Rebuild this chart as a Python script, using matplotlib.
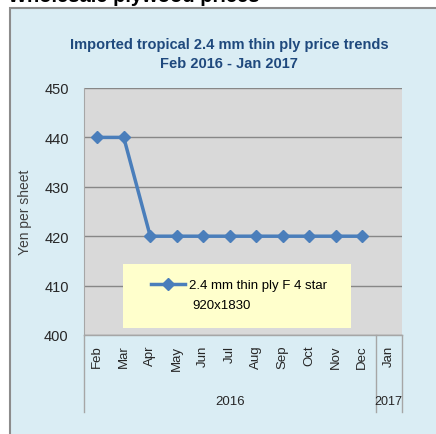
import numpy as np
import matplotlib.pyplot as plt
from matplotlib.patches import Rectangle

months = ['Feb', 'Mar', 'Apr', 'May', 'Jun', 'Jul', 'Aug', 'Sep', 'Oct', 'Nov', 'Dec', 'Jan']
years = ['2016', '2017']
prices = [440, 440, 420, 420, 420, 420, 420, 420, 420, 420, 420, np.nan]
series_name = '2.4 mm thin ply F 4 star'
series_size = '920x1830'

arial = ['Liberation Sans', 'DejaVu Sans']

fig = plt.figure(figsize=(4.36, 4.35), dpi=100, facecolor='white')

# outer light blue panel
fig.patches.append(Rectangle((10 / 436, -0.01), 1.0, 1 - 9 / 435 + 0.01, transform=fig.transFigure,
                             facecolor='#daedf4', edgecolor='#8c8c8c', lw=1.5, zorder=-10))
fig.text(8 / 436, 1 - 6 / 435, 'Wholesale plywood prices', fontsize=14.5, fontweight='bold',
         family=arial, ha='left', va='bottom')

fig.text(229 / 436, 1 - 45 / 435, 'Imported tropical 2.4 mm thin ply price trends', fontsize=10.5,
         fontweight='bold', color='#1f497d', family=arial, ha='center', va='center')
fig.text(229 / 436, 1 - 64 / 435, 'Feb 2016 - Jan 2017', fontsize=10.5,
         fontweight='bold', color='#1f497d', family=arial, ha='center', va='center')

ax = fig.add_axes([84 / 436, 1 - 336 / 435, 318 / 436, 247 / 435])
ax.set_facecolor('#d9d9d9')
x = np.arange(len(months))
ax.plot(x, prices, color='#4a7ebb', lw=2.5, marker='D', markersize=6, label=series_name, zorder=3)
ax.set_xlim(-0.5, len(months) - 0.5)
ax.set_ylim(400, 450)
ax.set_yticks(range(400, 451, 10))
ax.yaxis.grid(True, color='#878787', lw=1)
ax.set_axisbelow(True)
for s in ax.spines.values():
    s.set_visible(False)
ax.spines['left'].set_visible(True)
ax.spines['left'].set_color('#a6a6a6')
ax.tick_params(axis='y', length=0, pad=11, labelsize=10.5, labelcolor='#262626')
for t in ax.get_yticklabels():
    t.set_family(arial)
ax.set_xticks(x)
ax.set_xticklabels(months, rotation=90, fontsize=9.5, color='#262626', family=arial)
ax.tick_params(axis='x', length=0, pad=7)
ax.set_ylabel('Yen per sheet', fontsize=10, color='#404040', family=arial, labelpad=9)

# yellow legend box
ax.add_patch(Rectangle((0.123, 0.028), 0.717, 0.259, transform=ax.transAxes,
                       facecolor='#ffffcc', edgecolor='none', zorder=4))
leg = ax.legend(loc='center left', bbox_to_anchor=(0.19, 0.202), frameon=False,
                handlelength=2.6, handletextpad=0.25, borderpad=0, prop={'family': arial, 'size': 9.5})
leg.set_zorder(5)
ax.text(0.342, 0.123, series_size, transform=ax.transAxes, ha='left', va='center',
        fontsize=9.5, family=arial, color='black', zorder=6)

# category axis separators and year labels
for xv in [-0.5, 10.5, 11.5]:
    ax.plot([xv, xv], [0, -0.31], transform=ax.get_xaxis_transform(), color='#a6a6a6',
            lw=1, clip_on=False)
ax.plot([-0.5, 11.5], [0, 0], transform=ax.get_xaxis_transform(), color='#a6a6a6', lw=1, clip_on=False)
ax.text(5, -0.268, years[0], transform=ax.get_xaxis_transform(), ha='center', va='center',
        fontsize=9.5, family=arial, color='#262626')
ax.text(11, -0.268, years[1], transform=ax.get_xaxis_transform(), ha='center', va='center',
        fontsize=9, family=arial, color='#262626')

fig.savefig('out.png', dpi=100, facecolor='white')
